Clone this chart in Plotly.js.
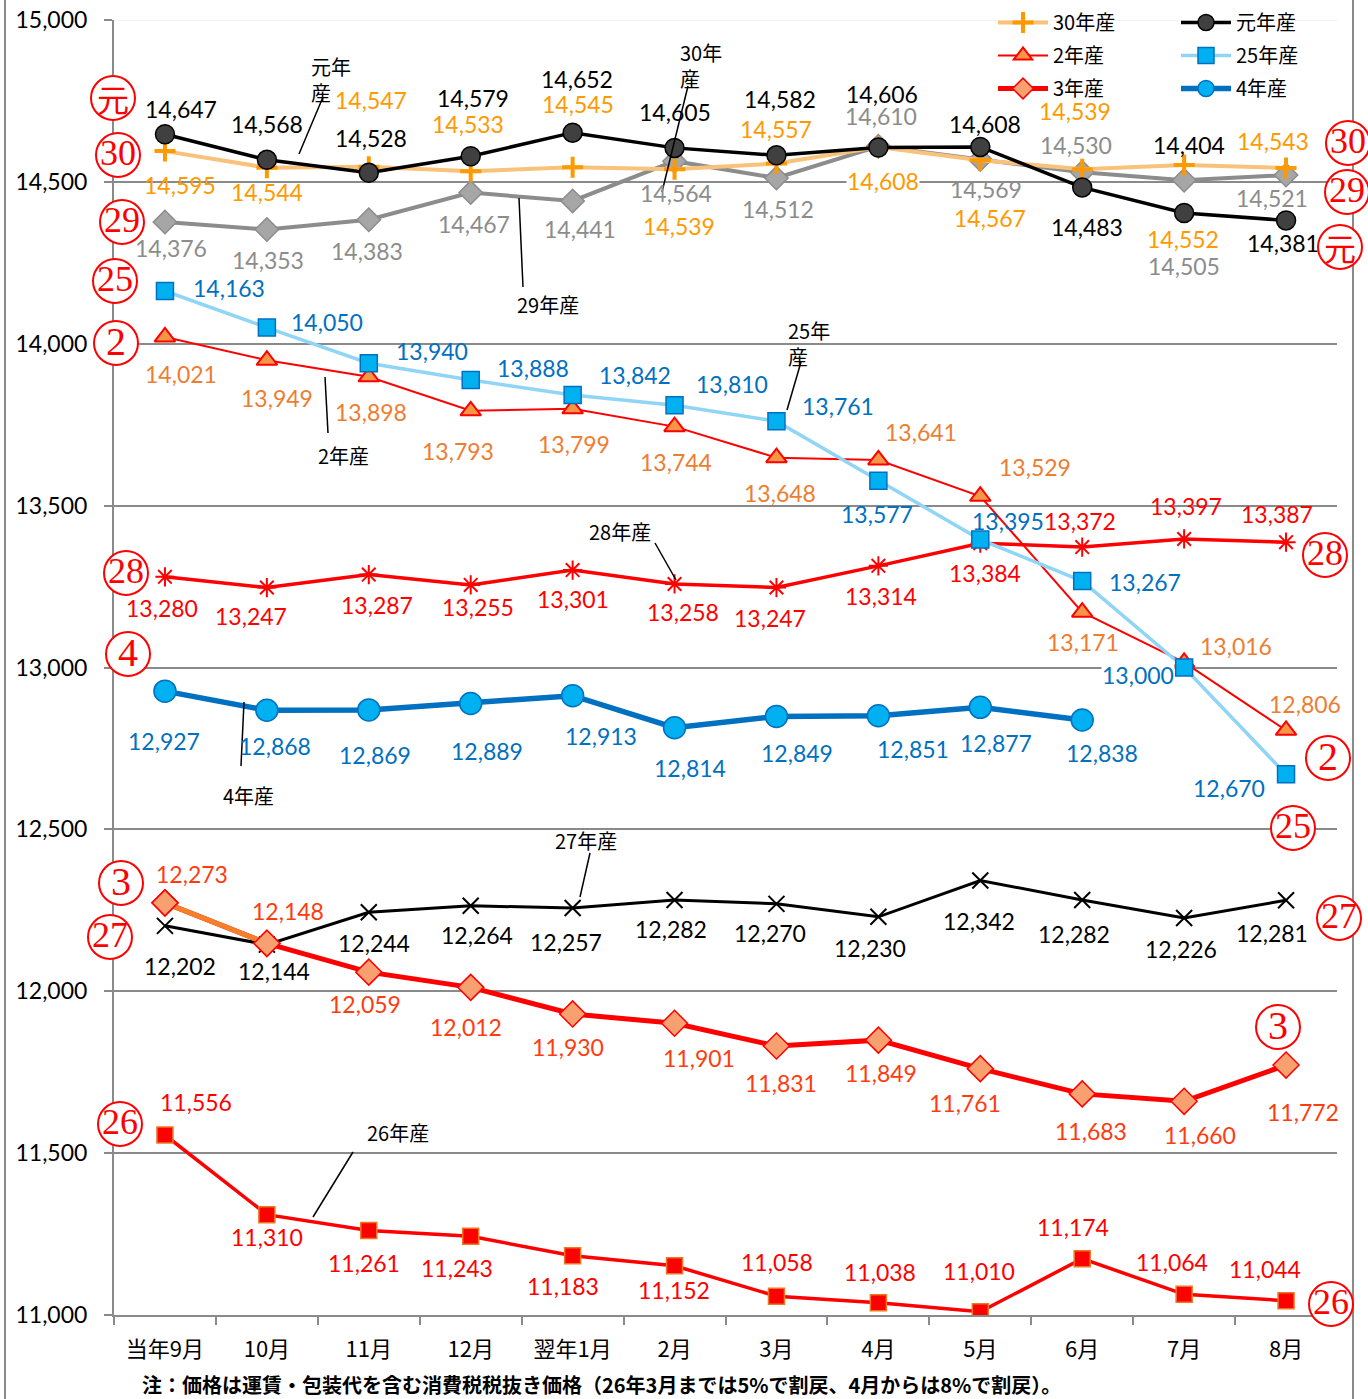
<!DOCTYPE html>
<html><head><meta charset="utf-8">
<script src="https://cdn.plot.ly/plotly-3.0.1.min.js"></script>
<style>html,body{margin:0;padding:0;background:#fff}</style>
</head><body><div id="chart" style="width:1368px;height:1399px"></div>
<script>
// ---- data ----
const months = ['当年9月','10月','11月','12月','翌年1月','2月','3月','4月','5月','6月','7月','8月'];
const yTicks = [11000,11500,12000,12500,13000,13500,14000,14500,15000];
const v30 = [14595,14544,14547,14533,14545,14539,14557,14608,14567,14539,14552,14543];
const vGan = [14647,14568,14528,14579,14652,14605,14582,14606,14608,14483,14404,14381];
const v29 = [14376,14353,14383,14467,14441,14564,14512,14610,14569,14530,14505,14521];
const v25 = [14163,14050,13940,13888,13842,13810,13761,13577,13395,13267,13000,12670];
const v2  = [14021,13949,13898,13793,13799,13744,13648,13641,13529,13171,13016,12806];
const v28 = [13280,13247,13287,13255,13301,13258,13247,13314,13384,13372,13397,13387];
const v4  = [12927,12868,12869,12889,12913,12814,12849,12851,12877,12838];
const v27 = [12202,12144,12244,12264,12257,12282,12270,12230,12342,12282,12226,12281];
const v3  = [12273,12148,12059,12012,11930,11901,11831,11849,11761,11683,11660,11772];
const v26 = [11556,11310,11261,11243,11183,11152,11058,11038,11010,11174,11064,11044];
const names = {v30:'30年産', vGan:'元年産', v29:'29年産', v25:'25年産', v2:'2年産', v28:'28年産', v4:'4年産', v27:'27年産', v3:'3年産', v26:'26年産'};
const note = '注：価格は運賃・包装代を含む消費税税抜き価格（26年3月までは5%で割戻、4月からは8%で割戻）。';

// ---- label placement (pixel offsets dx, dy from point; dy down) ----
const oGan = [[16,-25],[0,-36],[2,-35],[2,-58],[4,-54],[0,-36],[4,-56],[4,-54],[5,-23],[5,40],[5,-68],[-3,23]];
const o30 = [[15,34],[0,24],[2,-67],[-3,-47],[5,-63],[4,57],[0,-34],[5,34],[10,58],[-7,-58],[-1,74],[-13,-27]];
const o29 = [[6,26],[1,31],[-2,31],[3,31],[7,28],[1,32],[2,31],[3,-30],[6,29],[-6,-27],[0,86],[-14,23]];
const o25 = [[64,-3],[60,-6],[63,-12],[62,-12],[62,-20],[57,-21],[62,-15],[-1,33],[28,-19],[63,1],[-46,7],[-57,14]];
const o2  = [[16,37],[10,38],[2,35],[-13,40],[1,35],[1,35],[4,35],[43,-28],[55,-29],[1,30],[52,-16],[19,-26]];
const o28 = [[-3,31],[-16,28],[8,30],[7,22],[0,29],[8,28],[-6,30],[3,30],[5,30],[-2,-26],[2,-33],[-9,-28]];
const o4  = [[-1,50],[8,36],[6,45],[16,48],[28,40],[15,40],[21,37],[35,33],[16,36],[20,33]];
const o27 = [[15,40],[7,26],[5,31],[6,29],[-7,34],[-4,29],[-6,29],[-8,31],[-1,40],[-8,34],[-3,31],[-14,33]];
const o3  = [[27,-29],[21,-32],[-4,32],[-5,40],[-5,33],[24,35],[5,37],[3,33],[-15,34],[9,37],[16,34],[17,47]];
const o26 = [[31,-33],[0,22],[-5,32],[-14,32],[-10,30],[-1,24],[1,-34],[2,-31],[-1,-41],[-9,-32],[-12,-32],[-21,-32]];

const NUMF = 'Lato, "Liberation Sans", sans-serif';
const JPF = '"Noto Sans CJK JP", sans-serif';
const GRID = '#8a8a8a';

// plot-area geometry in pixels
const L = 114, R = 31, T = 20, B = 84, W = 1368, H = 1399;
const PW = W - L - R, PH = H - T - B;
const PX = p => (p - L) / PW;
const PY = p => (H - B - p) / PH;

function fmt(v){ return v.toLocaleString('en-US'); }
function labels(vals, offs, color, bgIdx){
  return vals.map((v,i)=>({x:months[i], y:v, xref:'x', yref:'y', text:fmt(v), showarrow:false,
    xshift:offs[i][0], yshift:-offs[i][1], xanchor:'center', yanchor:'middle',
    font:{family:NUMF, size:23, color:color},
    bgcolor:(bgIdx && bgIdx.indexOf(i)>=0)?'#ffffff':'rgba(0,0,0,0)', borderpad:0}));
}

function tr(vals, name, line, marker, extra){
  return Object.assign({type:'scatter', mode:'lines+markers', x:months.slice(0, vals.length), y:vals,
    name:name, legendgroup:name, line:line, marker:marker, showlegend:false, hoverinfo:'skip'}, extra||{});
}

const traces = [
  tr(v26, names.v26, {color:'#ff0000', width:3.5}, {symbol:'square', size:16, color:'#ff0000', line:{color:'#ee7722', width:1.5}}),
  tr(v27, names.v27, {color:'#000000', width:3}, {symbol:'x-thin-open', size:16, line:{color:'#000000', width:2}}),
  tr(v28, names.v28, {color:'#ff0000', width:3.5}, {symbol:'asterisk-open', size:16, line:{color:'#ff0000', width:2}}),
  tr(v2, names.v2, {color:'#ff0000', width:2}, {symbol:'triangle-up', size:18, color:'#f79646', line:{color:'#ff0000', width:2}},
     {showlegend:true, legend:'legend', legendrank:2}),
  tr(v25, names.v25, {color:'#90d5f5', width:3.5}, {symbol:'square', size:17, color:'#00b0f0', line:{color:'#0070c0', width:1.5}},
     {showlegend:true, legend:'legend2', legendrank:2}),
  tr(v29, names.v29, {color:'#8c8c8c', width:4}, {symbol:'diamond', size:18, color:'#a6a6a6', line:{color:'#8c8c8c', width:1.5}}),
  tr(v30, names.v30, {color:'#f9c27a', width:4}, {symbol:'cross-thin', size:15, line:{color:'#ff9900', width:4}},
     {showlegend:true, legend:'legend', legendrank:1}),
  tr(vGan, names.vGan, {color:'#000000', width:3.5}, {symbol:'circle', size:19, color:'#404040', line:{color:'#000000', width:1.5}},
     {showlegend:true, legend:'legend2', legendrank:1}),
  tr(v3, names.v3, {color:'#ff0000', width:5}, {symbol:'diamond', size:20, color:'#f9a070', line:{color:'#ff0000', width:1.5}},
     {showlegend:true, legend:'legend', legendrank:3}),
  // first segment of 3年産 drawn in orange, then its two end markers again on top
  {type:'scatter', mode:'lines', x:months.slice(0,2), y:v3.slice(0,2), legendgroup:names.v3, line:{color:'#f57f2a', width:5}, showlegend:false, hoverinfo:'skip'},
  {type:'scatter', mode:'markers', x:months.slice(0,2), y:v3.slice(0,2), legendgroup:names.v3, marker:{symbol:'diamond', size:20, color:'#f9a070', line:{color:'#ff0000', width:1.5}}, showlegend:false, hoverinfo:'skip'},
  tr(v4, names.v4, {color:'#0070c0', width:5.5}, {symbol:'circle', size:22, color:'#00b0f0', line:{color:'#0070c0', width:1.5}},
     {showlegend:true, legend:'legend2', legendrank:3})
];

let annotations = [].concat(
  labels(v26, o26, '#ff0000'),
  labels(v27, o27, '#000000'),
  labels(v28, o28, '#ff0000'),
  labels(v2, o2, '#ed7d31'),
  labels(v25, o25, '#0070c0', [10]),
  labels(v29, o29, '#8c8c8c'),
  labels(v30, o30, '#ff9900', [7]),
  labels(vGan, oGan, '#000000'),
  labels(v3, o3, '#ff3b10'),
  labels(v4, o4, '#0070c0')
);

// callout labels (left edge / center in px) and their leader lines
const callouts = [
  {t:'元年<br>産', c:[309,79], left:true, ln:[323,97,299,154]},
  {t:'30年<br>産', c:[678,65], left:true, ln:[688,86,662,192]},
  {t:names.v29, c:[548,304], ln:[519,198,523,287]},
  {t:'25年<br>産', c:[786,344], left:true, ln:[801,362,787,410]},
  {t:names.v2, c:[343,455], ln:[325,377,328,433]},
  {t:names.v28, c:[620,531], ln:[655,543,676,580]},
  {t:names.v4, c:[248,795], ln:[244,702,241,766]},
  {t:names.v27, c:[586,840], ln:[590,853,580,897]},
  {t:names.v26, c:[398,1132], ln:[353,1152,313,1217]}
];
const shapes = [];
callouts.forEach(co=>{
  annotations.push({xref:'paper', yref:'paper', x:PX(co.c[0]), y:PY(co.c[1]), text:co.t, showarrow:false,
    xanchor:co.left?'left':'center', yanchor:'middle', align:'left', font:{family:JPF, size:20, color:'#000'}});
  shapes.push({type:'line', xref:'paper', yref:'paper', x0:PX(co.ln[0]), y0:PY(co.ln[1]), x1:PX(co.ln[2]), y1:PY(co.ln[3]), line:{color:'#000', width:1.5}, layer:'above'});
});

// circled series markers at both sides
const circ = [
  ['元',113,98],['30',118,155],['29',122,222],['25',115,281],['2',116,343],['28',126,573],['4',128,654],['3',121,883],['27',110,937],['26',120,1124],
  ['30',1348,143],['29',1347,192],['元',1340,247],['28',1325,555],['2',1328,758],['25',1293,828],['27',1339,918],['3',1278,1027],['26',1331,1304]
];
circ.forEach(c=>{
  shapes.push({type:'circle', xref:'paper', yref:'paper', xsizemode:'pixel', ysizemode:'pixel',
    xanchor:PX(c[1]), yanchor:PY(c[2]), x0:-22, x1:22, y0:-22, y1:22,
    line:{color:'#ff0000', width:2}, fillcolor:'#ffffff', layer:'above'});
  const isK = c[0]==='元';
  annotations.push({xref:'paper', yref:'paper', x:PX(c[1]), y:PY(c[2]), text:c[0], showarrow:false,
    xanchor:'center', yanchor:'middle', yshift:isK?0:2,
    font:{family:isK?JPF:'"Liberation Serif", serif', size:isK?32:(c[0].length>1?36:40), color:'#ff0000'}});
});

// outer frame lines, faint top gridline
shapes.push({type:'line', xref:'paper', yref:'paper', x0:PX(5), x1:PX(5), y0:PY(0), y1:PY(1399), line:{color:GRID, width:2}, layer:'below'});
shapes.push({type:'line', xref:'paper', yref:'paper', x0:PX(1353), x1:PX(1353), y0:PY(0), y1:PY(1399), line:{color:GRID, width:2}, layer:'below'});
shapes.push({type:'line', xref:'paper', yref:'y', x0:0, x1:1, y0:yTicks[yTicks.length-1], y1:yTicks[yTicks.length-1], line:{color:'#f2f2f2', width:2}, layer:'below'});

annotations.push({xref:'paper', yref:'paper', x:PX(140), y:PY(1385), xanchor:'left', yanchor:'middle', showarrow:false,
  text:'<b>'+note+'</b>', font:{family:JPF, size:20, color:'#000'}});

const legendBase = {yanchor:'top', xanchor:'left', bgcolor:'rgba(255,255,255,0)', font:{family:JPF, size:20, color:'#000'},
  itemwidth:50, traceorder:'grouped', tracegroupgap:4};
const layout = {
  width:W, height:H, margin:{l:L, r:R, t:T, b:B, autoexpand:false}, paper_bgcolor:'#fff', plot_bgcolor:'#fff',
  xaxis:{type:'category', categoryarray:months, range:[-0.5, 11.5], tickson:'boundaries', ticks:'outside', ticklen:8, tickwidth:2,
    tickcolor:GRID, showline:true, linecolor:GRID, linewidth:2, showgrid:false, tickfont:{family:JPF, size:22, color:'#000'}, ticklabelstandoff:14},
  yaxis:{range:[yTicks[0], yTicks[yTicks.length-1]], tickvals:yTicks, tickformat:',', ticks:'outside', ticklen:8, tickwidth:2, tickcolor:GRID,
    showline:true, linecolor:GRID, linewidth:2, gridcolor:GRID, gridwidth:2, zeroline:false, tickfont:{family:NUMF, size:23, color:'#000'}, ticklabelstandoff:12},
  legend:Object.assign({x:PX(993), y:PY(3)}, legendBase),
  legend2:Object.assign({x:PX(1176), y:PY(3)}, legendBase),
  showlegend:true,
  annotations:annotations, shapes:shapes
};
Plotly.newPlot('chart', traces, layout, {staticPlot:true, displayModeBar:false});
</script></body></html>
